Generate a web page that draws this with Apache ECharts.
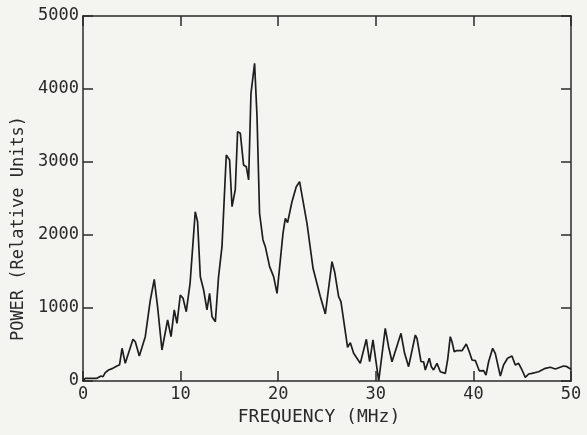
<!DOCTYPE html>
<html>
<head>
<meta charset="utf-8">
<script src="https://cdn.jsdelivr.net/npm/echarts@6/dist/echarts.min.js"></script>
<style>
html,body{margin:0;padding:0;background:#f4f5f1;}
#c{width:587px;height:435px;}
</style>
</head>
<body>
<div id="c"></div>
<script>
const freqMHz = [0,0.24,1.43,1.6,1.84,2.05,2.28,2.62,2.97,3.48,3.75,4.0,4.33,5.12,5.36,5.77,6.38,6.9,7.3,7.64,8.09,8.67,9.02,9.35,9.63,9.97,10.25,10.58,10.97,11.5,11.74,12.02,12.36,12.7,12.97,13.22,13.56,13.89,14.24,14.68,15.02,15.27,15.6,15.84,16.12,16.45,16.73,16.97,17.21,17.58,17.83,18.09,18.44,18.68,19.12,19.53,19.88,20.49,20.73,20.96,21.41,21.85,22.19,22.37,22.95,23.57,24.32,24.83,25.51,25.78,26.19,26.43,27.11,27.39,27.73,28.41,29.03,29.37,29.71,30.3,30.97,31.31,31.66,32.58,32.95,33.36,34.05,34.22,34.63,34.9,35.07,35.48,35.69,35.92,36.27,36.61,37.12,37.36,37.63,37.81,38.04,38.25,38.83,39.27,39.58,39.86,40.2,40.6,41.05,41.29,41.56,41.97,42.24,42.76,43.09,43.5,43.95,44.29,44.63,44.98,45.32,45.66,46.0,46.68,47.37,47.88,48.39,49.24,49.59,50];
const power = [0,37,37,14,68,59,114,151,169,205,223,448,242,571,538,342,607,1110,1393,1018,425,836,607,973,790,1178,1133,949,1338,2319,2182,1429,1247,973,1201,881,812,1429,1840,3096,3028,2388,2617,3415,3393,2959,2936,2754,3941,4352,3621,2297,1932,1840,1566,1429,1200,2023,2229,2169,2456,2662,2730,2717,2160,1544,1155,918,1634,1497,1155,1086,462,525,380,242,571,264,562,0,722,470,264,653,379,196,630,585,264,264,151,311,196,151,242,127,105,288,607,538,401,415,415,507,401,288,280,140,141,82,264,448,379,69,219,311,343,219,242,151,51,96,105,127,174,188,164,205,196,160];
const xTicks = [0,10,20,30,40,50];
const yTicks = [0,1000,2000,3000,4000,5000];
const xTitle = 'FREQUENCY (MHz)';
const yTitle = 'POWER (Relative Units)';

const ink = '#2a2a2a';
const font = 'DejaVu Sans Mono';
const chart = echarts.init(document.getElementById('c'), null, {renderer:'canvas'});
const axisLine = {show:true, onZero:false, lineStyle:{color:ink, width:1.5}};
const tick = {show:true, inside:true, length:10, lineStyle:{color:ink, width:1.5}};
const plain = v => String(v);
chart.setOption({
  backgroundColor:'#f4f5f1',
  animation:false,
  grid:{left:83, right:16, top:16, bottom:54, containLabel:false, outerBoundsMode:'none'},
  xAxis:[{
    type:'value', min:xTicks[0], max:xTicks[xTicks.length-1], interval:10,
    axisLine, axisTick:tick, splitLine:{show:false},
    axisLabel:{color:ink, fontFamily:font, fontSize:17, margin:5, formatter:plain},
    name:xTitle, nameLocation:'middle', nameGap:19,
    nameTextStyle:{color:ink, fontFamily:font, fontSize:18, padding:[0,16,0,0]}
  },{
    type:'value', position:'top', min:xTicks[0], max:xTicks[xTicks.length-1], interval:10,
    axisLine, axisTick:tick, splitLine:{show:false}, axisLabel:{show:false}
  }],
  yAxis:[{
    type:'value', min:yTicks[0], max:yTicks[yTicks.length-1], interval:1000,
    axisLine, axisTick:tick, splitLine:{show:false},
    axisLabel:{color:ink, fontFamily:font, fontSize:17, margin:4, formatter:plain},
    name:yTitle, nameLocation:'middle', nameGap:56,
    nameTextStyle:{color:ink, fontFamily:font, fontSize:17, padding:[0,60,0,0]}
  },{
    type:'value', position:'right', min:yTicks[0], max:yTicks[yTicks.length-1], interval:1000,
    axisLine, axisTick:tick, splitLine:{show:false}, axisLabel:{show:false}
  }],
  series:[{
    type:'line', xAxisIndex:0, yAxisIndex:0,
    data: freqMHz.map((f,i)=>[f, power[i]]),
    showSymbol:false, smooth:false,
    lineStyle:{color:'#1e1e1e', width:1.7}
  }]
});
</script>
</body>
</html>
